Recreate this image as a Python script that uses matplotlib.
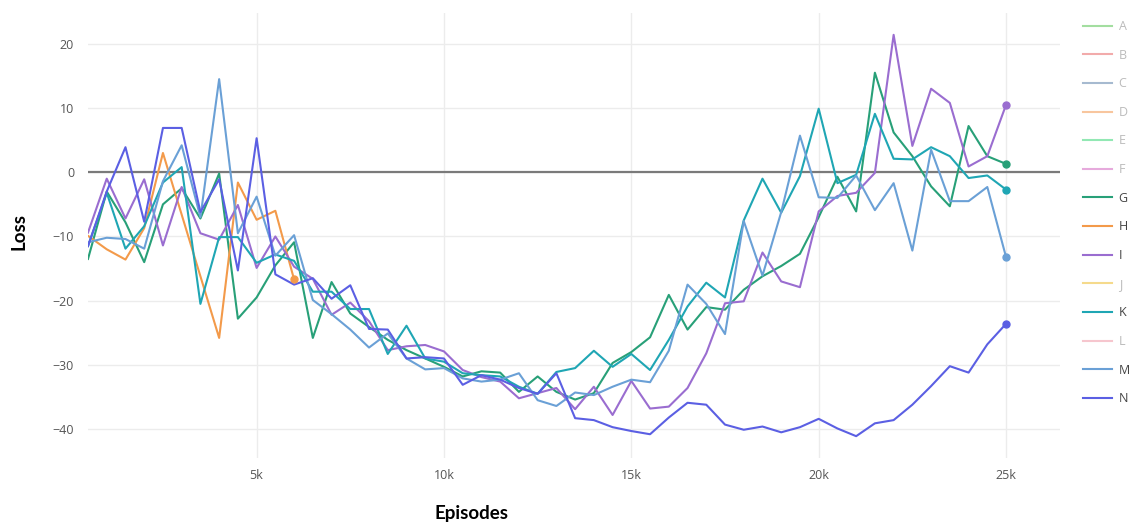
import numpy as np
import matplotlib
matplotlib.use("Agg")
import matplotlib.pyplot as plt
from matplotlib.lines import Line2D

# episodes sampled every 500
episodes = np.arange(500, 25001, 500)

loss_g = [-13.5, -3.0, -7.8, -14.0, -5.0, -2.5, -7.2, -0.2, -22.8, -19.5,
          -14.5, -10.9, -25.8, -17.1, -22.0, -24.1, -26.1, -27.7, -29.0, -30.3,
          -31.8, -31.0, -31.2, -34.2, -31.8, -34.2, -35.4, -34.4, -29.7, -28.0,
          -25.7, -19.1, -24.5, -21.0, -21.4, -18.3, -16.2, -14.6, -12.7, -7.0,
          -0.7, -6.1, 15.5, 6.2, 2.5, -2.2, -5.3, 7.2, 2.5, 1.3]
loss_k = [-11.5, -3.2, -11.9, -8.4, -1.6, 0.8, -20.5, -10.1, -10.1, -14.1,
          -12.8, -13.8, -18.6, -18.6, -21.3, -21.3, -28.3, -23.9, -29.0, -29.5,
          -31.3, -31.6, -31.8, -33.4, -34.5, -31.1, -30.5, -27.8, -30.3, -28.3,
          -30.8, -26.1, -20.9, -17.2, -19.5, -7.5, -1.0, -6.3, -0.6, 9.9,
          -1.7, -0.4, 9.1, 2.1, 2.0, 3.9, 2.5, -0.9, -0.5, -2.7]
loss_m = [-10.9, -10.2, -10.4, -11.9, -1.4, 4.2, -7.0, 14.5, -9.5, -3.8,
          -13.0, -9.8, -19.9, -22.1, -24.5, -27.3, -25.1, -29.0, -30.7, -30.5,
          -32.1, -32.6, -32.3, -31.3, -35.5, -36.4, -34.3, -34.7, -33.4, -32.3,
          -32.7, -27.8, -17.5, -20.5, -25.2, -7.6, -16.1, -6.2, 5.7, -3.9,
          -4.0, -0.5, -5.9, -1.7, -12.2, 3.5, -4.5, -4.5, -2.3, -13.2]
loss_i = [-9.4, -1.0, -7.2, -1.1, -11.4, -2.3, -9.5, -10.5, -5.1, -14.9,
          -10.0, -14.7, -16.6, -22.2, -20.3, -23.2, -27.7, -27.1, -26.9, -27.9,
          -30.8, -31.9, -32.6, -35.2, -34.4, -33.6, -36.9, -33.4, -37.8, -32.5,
          -36.8, -36.5, -33.6, -28.2, -20.4, -20.1, -12.5, -17.0, -17.9, -6.1,
          -3.7, -3.2, -0.1, 21.4, 4.1, 13.0, 10.8, 0.9, 2.5, 10.5]
loss_n = [-11.5, -3.0, 3.9, -7.7, 6.9, 6.9, -6.2, -1.1, -15.3, 5.3,
          -15.9, -17.5, -16.5, -19.7, -17.6, -24.4, -24.5, -29.0, -28.8, -29.0,
          -33.1, -31.6, -32.3, -33.6, -34.5, -31.3, -38.3, -38.6, -39.7, -40.3,
          -40.8, -38.2, -35.9, -36.2, -39.3, -40.1, -39.6, -40.5, -39.7, -38.4,
          -39.9, -41.1, -39.1, -38.6, -36.2, -33.3, -30.2, -31.2, -26.8, -23.6]
# H only runs to 6k
episodes_h = [500, 1000, 1500, 2000, 2500, 4000, 4500, 5000, 5500, 6000]
loss_h = [-9.9, -12.0, -13.6, -8.7, 3.0, -25.8, -1.6, -7.4, -6.0, -16.7]

labels = list("ABCDEFGHIJKLMN")
hidden = {"A": "#a3dea0", "B": "#f2abab", "C": "#a6bad0", "D": "#f8c69e",
          "E": "#92e8b4", "F": "#e6aadc", "J": "#f5da8c", "L": "#f6c6ce"}
shown = {
    "G": ("#28a078", episodes, loss_g),
    "H": ("#f39a4a", episodes_h, loss_h),
    "I": ("#9a6dd0", episodes, loss_i),
    "K": ("#1fa6b4", episodes, loss_k),
    "M": ("#6aa0d6", episodes, loss_m),
    "N": ("#5b5fe3", episodes, loss_n),
}

W, H = 1129, 525
fig = plt.figure(figsize=(W / 100, H / 100), dpi=100)
ax = fig.add_axes([88 / W, 1 - 458 / H, (1060 - 88) / W, (458 - 13) / H])

ax.axhline(0, color="#7a7a7a", lw=1.6, zorder=1.5)
for name, (c, xs, ys) in shown.items():
    ax.plot(xs, ys, color=c, lw=1.5, zorder=2)
    ax.plot(xs[-1], ys[-1], "o", color=c, ms=5, zorder=3)

ax.set_xlim(500, 26440)
ax.set_ylim(-44.5, 24.8)
ax.set_xticks([5000, 10000, 15000, 20000, 25000])
ax.set_xticklabels(["5k", "10k", "15k", "20k", "25k"])
ax.set_yticks([-40, -30, -20, -10, 0, 10, 20])
ax.set_yticklabels(["\u221240", "\u221230", "\u221220", "\u221210", "0", "10", "20"])
ax.grid(True, color="#ececec", lw=1, zorder=0)
ax.set_axisbelow(True)
for s in ax.spines.values():
    s.set_visible(False)
ax.tick_params(axis="both", length=0, labelsize=9, labelcolor="#555555")
ax.tick_params(axis="y", pad=10)
ax.tick_params(axis="x", pad=8)
for t in ax.get_xticklabels() + ax.get_yticklabels():
    t.set_family("Open Sans")

fig.text(19 / W, 1 - 232 / H, "Loss", rotation=90, ha="center", va="center",
         family="Lato", weight="bold", fontsize=13.5, color="black")
fig.text(472 / W, 1 - 513 / H, "Episodes", ha="center", va="center",
         family="Lato", weight="bold", fontsize=13.5, color="black")

handles = []
for lab in labels:
    if lab in shown:
        handles.append(Line2D([], [], color=shown[lab][0], lw=1.5))
    else:
        handles.append(Line2D([], [], color=hidden[lab], lw=1.5))
leg = fig.legend(handles, labels, loc="upper left",
                 bbox_to_anchor=(1083 / W, 1 - 20 / H), frameon=False,
                 prop={"family": "Open Sans", "size": 9}, handlelength=2.3,
                 handletextpad=0.55, labelspacing=1.25, borderpad=0,
                 borderaxespad=0)
for lab, txt in zip(labels, leg.get_texts()):
    txt.set_color("#444444" if lab in shown else "#bbbbbb")

fig.savefig("out.png", dpi=100)
